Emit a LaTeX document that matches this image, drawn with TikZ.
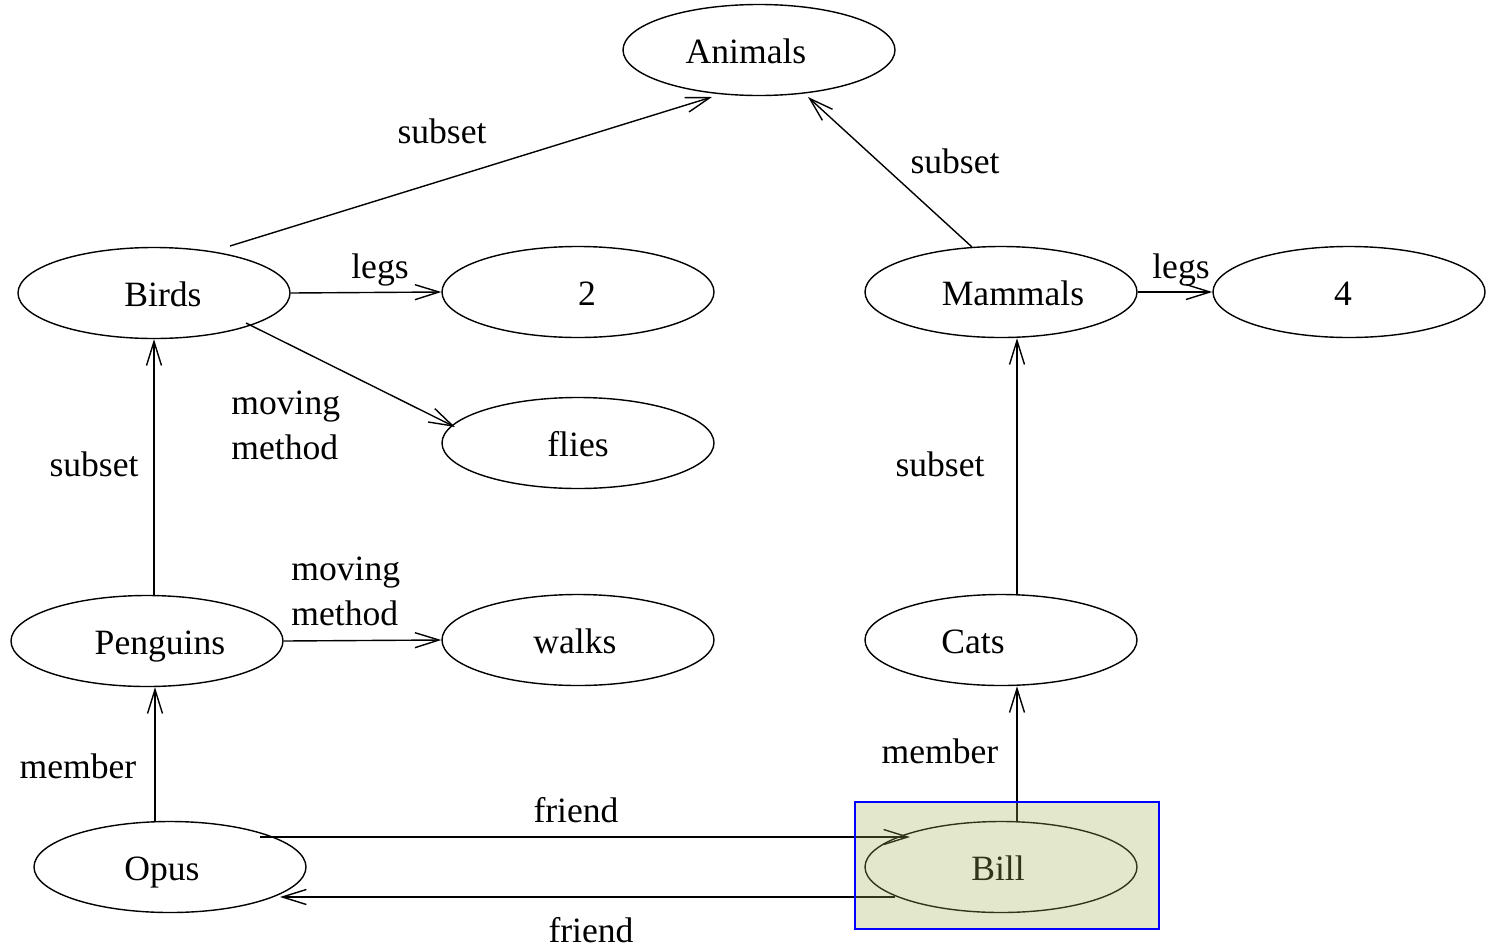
\documentclass[tikz,border=0pt]{standalone}
\usepackage{fontspec}
\setmainfont{Liberation Serif}
\usetikzlibrary{arrows.meta}
\usetikzlibrary{calc}
\usetikzlibrary{shapes.geometric}

\definecolor{hlfill}{RGB}{162,178,85}

\begin{document}
\begin{tikzpicture}[x=0.5pt,y=-0.5pt,
    font=\fontsize{17.8}{22.5}\selectfont,
    concept/.style={draw,ellipse,line width=0.7pt,minimum width=136pt,minimum height=45.5pt,
      inner sep=0pt,text height=13pt,text depth=0pt},
    nudge/.style={execute at begin node={\hspace*{#1}}},
    rel/.style={inner sep=0pt},
    isa/.style={-{Straight Barb[length=12pt,width=7.5pt]},line width=0.7pt}]
  \useasboundingbox (0,0) rectangle (1488,948);

  % concepts
  \node[concept,nudge=-13pt] (animals) at (759,50) {Animals};
  \node[concept,nudge=9pt] (birds) at (154,293) {Birds};
  \node[concept,nudge=9pt] (two) at (578,292) {2};
  \node[concept,nudge=12pt] (mammals) at (1001,292) {Mammals};
  \node[concept,nudge=-6pt] (four) at (1349,292) {4};
  \node[concept] (flies) at (578,443) {flies};
  \node[concept,nudge=13pt] (penguins) at (147,641) {Penguins};
  \node[concept,nudge=-3pt] (walks) at (578,640) {walks};
  \node[concept,nudge=-28pt] (cats) at (1001,640) {Cats};
  \node[concept,nudge=-8pt] (opus) at (170,867) {Opus};
  \node[concept,nudge=-3pt] (bill) at (1001,867) {Bill};

  % relations
  \draw[isa] ([shift={(76,-47)}]birds.center) -- ([shift={(-47,47)}]animals.center);
  \draw[isa] ([shift={(-29,-45)}]mammals.center) -- ([shift={(49,47)}]animals.center);
  \draw[isa] (birds.east) -- (two.west);
  \draw[isa] (mammals.east) -- (four.west);
  \draw[isa] ([shift={(92,30)}]birds.center) -- ([shift={(-123,-16)}]flies.center);
  \draw[isa] (birds.south |- penguins.north) -- (birds.south);
  \draw[isa] (penguins.east) -- (walks.west);
  \draw[isa] ([shift={(16,0)}]cats.north) -- ([shift={(16,0)}]mammals.south);
  \draw[isa] ([shift={(-15,0)}]opus.north) -- ([shift={(8,0)}]penguins.south);
  \draw[isa] ([shift={(16,0)}]bill.north) -- ([shift={(16,0)}]cats.south);
  \draw[isa] ([shift={(90,-30)}]opus.center) -- ([shift={(-91,-30)}]bill.center);
  \draw[isa] ([shift={(-106,30)}]bill.center) -- ([shift={(110,30)}]opus.center);

  % labels
  \node[rel,anchor=base] (lbirdsub) at (442,143) {subset};
  \node[rel,anchor=base] (lmamsub) at (955,173) {subset};
  \node[rel,anchor=base] (lbirdlegs) at (380,278) {legs};
  \node[rel,anchor=base] (lmamlegs) at (1181,278) {legs};
  \node[rel,anchor=west,align=left] (lbirdmove) at (231,425) {moving\\method};
  \node[rel,anchor=base] (lpengsub) at (94,476) {subset};
  \node[rel,anchor=base] (lcatsub) at (940,476) {subset};
  \node[rel,anchor=west,align=left] (lpengmove) at (291,591) {moving\\method};
  \node[rel,anchor=base] (lopusmem) at (78,778) {member};
  \node[rel,anchor=base] (lbillmem) at (940,763) {member};
  \node[rel,anchor=base] (lfriend1) at (576,822) {friend};
  \node[rel,anchor=base] (lfriend2) at (591,942) {friend};

  % highlight
  \draw[draw=blue,line width=1pt,fill=hlfill,fill opacity=0.3] (855,802) rectangle (1159,929);
\end{tikzpicture}
\end{document}
